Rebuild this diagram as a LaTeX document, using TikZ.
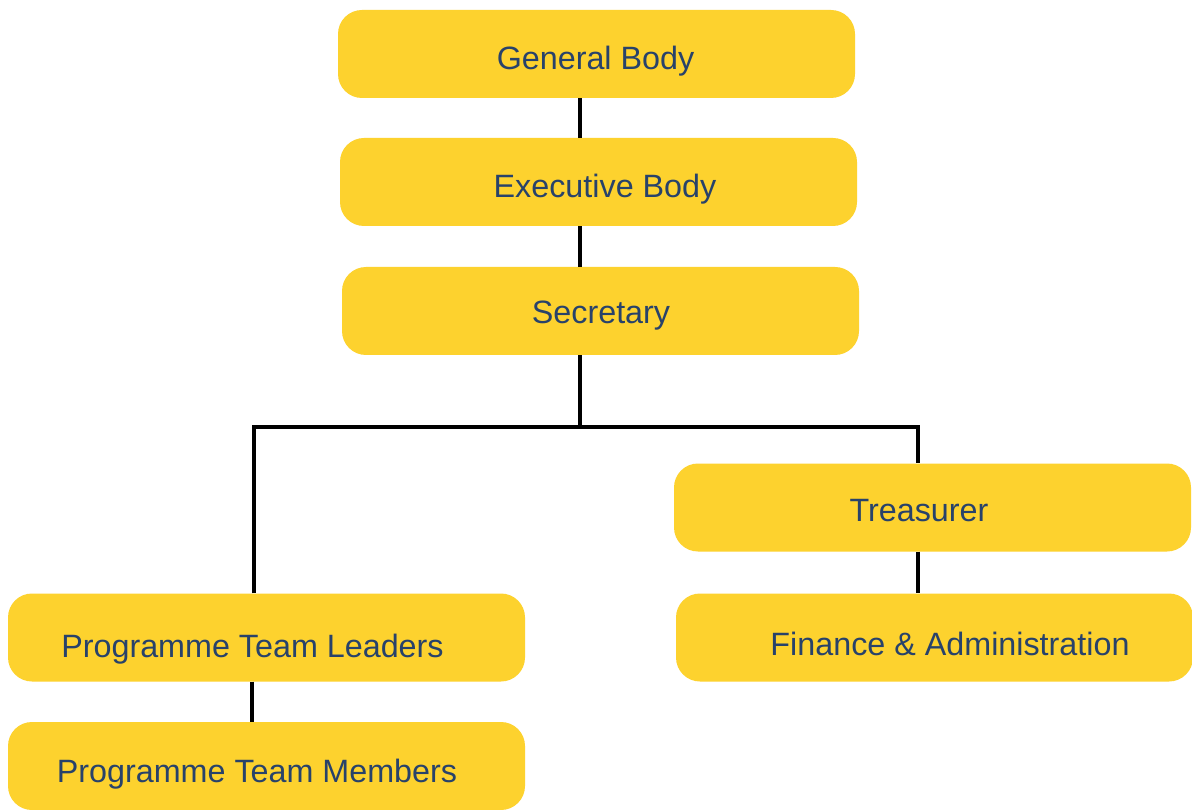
\documentclass[tikz,border=0pt]{standalone}
\usepackage{fontspec}
\setmainfont{Liberation Sans}
\definecolor{boxyellow}{RGB}{253,210,46}
\definecolor{navytext}{RGB}{40,66,106}
\begin{document}
\begin{tikzpicture}[x=1pt,y=-1pt,
  box/.style={fill=boxyellow,draw=none,rounded corners=24pt,minimum width=517pt,minimum height=88pt,inner sep=0pt},
  lbl/.style={anchor=base,text=navytext,inner sep=0pt,font=\fontsize{32.3}{37}\selectfont},
  conn/.style={draw=black,line width=3.8pt}]
\useasboundingbox (0,0) rectangle (1192,810);
\fill[white] (0,0) rectangle (1192,810);
% boxes
\node[box] (gb) at (596.5,54) {};
\node[box] (eb) at (598.5,182) {};
\node[box] (sec) at (600.5,311) {};
\node[box] (tr) at (932.5,507.5) {};
\node[box] (fa) at (934.5,637.5) {};
\node[box] (ptl) at (266.5,637.5) {};
\node[box] (ptm) at (266.5,766) {};
% labels
\node[lbl] (gbt) at (595.5,70) {General Body};
\node[lbl] (ebt) at (605,198) {Executive Body};
\node[lbl] (sect) at (601,324) {Secretary};
\node[lbl] (trt) at (919,521) {Treasurer};
\node[lbl] (fat) at (950,655) {Finance \& Administration};
\node[lbl] (ptlt) at (252.5,657) {Programme Team Leaders};
\node[lbl] (ptmt) at (257,782) {Programme Team Members};
% connectors
\coordinate (trunk) at (580,0);
\coordinate (lx) at (254,0);
\coordinate (rx) at (918,0);
\coordinate (bar) at (0,427);
\draw[conn] (gb.south -| trunk) -- (eb.north -| trunk);
\draw[conn] (eb.south -| trunk) -- (sec.north -| trunk);
\draw[conn] (sec.south -| trunk) -- (bar -| trunk);
\draw[conn] (ptl.north -| lx) -- (bar -| lx) -- (bar -| rx) -- (tr.north -| rx);
\draw[conn] (tr.south -| rx) -- (fa.north -| rx);
\draw[conn] ([xshift=-2pt]ptl.south -| lx) -- ([xshift=-2pt]ptm.north -| lx);
\end{tikzpicture}
\end{document}
